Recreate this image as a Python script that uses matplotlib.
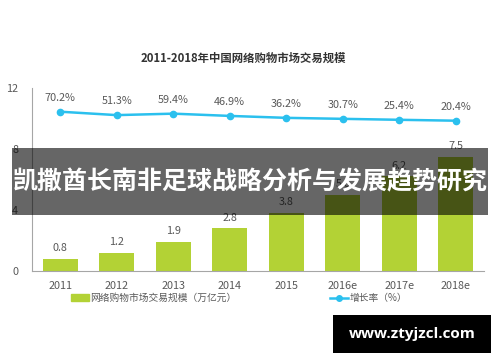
import matplotlib
matplotlib.use("Agg")
import matplotlib.pyplot as plt
from matplotlib.patches import Rectangle, Patch
from matplotlib.lines import Line2D

plt.rcParams['font.family'] = ['Noto Sans CJK SC', 'DejaVu Sans']

years = ['2011', '2012', '2013', '2014', '2015', '2016e', '2017e', '2018e']
scale = [0.8, 1.2, 1.9, 2.8, 3.8, 5.0, 6.2, 7.5]
growth = [70.2, 51.3, 59.4, 46.9, 36.2, 30.7, 25.4, 20.4]

bar_color = '#b3d235'
line_color = '#2bc0ee'
text_color = '#595959'

fig = plt.figure(figsize=(5, 3.62), dpi=100)
ax = fig.add_axes([0.064, 0.2514, 0.904, 0.5055])

x = range(len(years))
ax.bar(x, scale, width=0.62, color=bar_color, zorder=2)
for i, v in enumerate(scale):
    ax.annotate(f"{v:.1f}", (i, v), xytext=(0, 4), textcoords='offset points',
                ha='center', va='bottom', fontsize=7.8, color=text_color)

ax.set_xlim(-0.5, len(years) - 0.5)
ax.set_ylim(0, 12)
ax.set_yticks([0, 4, 8, 12])
ax.set_xticks(list(x))
ax.set_xticklabels(years)
ax.tick_params(axis='both', length=0, labelsize=7.8, labelcolor=text_color)
ax.tick_params(axis='y', pad=10)
ax.tick_params(axis='x', pad=7)
for s in ['top', 'right']:
    ax.spines[s].set_visible(False)
for s in ['left', 'bottom']:
    ax.spines[s].set_color('#a6a6a6')
    ax.spines[s].set_linewidth(0.8)

ax2 = ax.twinx()
ax2.plot(x, growth, color=line_color, lw=1.8, marker='o', ms=4.5, zorder=3)
ax2.set_ylim(-811.6, 201.4)
ax2.axis('off')
for i, v in enumerate(growth):
    ax2.annotate(f"{v}%", (i, v), xytext=(0, 6.5), textcoords='offset points',
                 ha='center', va='bottom', fontsize=7.8, color=text_color)

fig.text(0.486, 0.84, '2011-2018年中国网络购物市场交易规模', ha='center', va='center',
         fontsize=8.2, fontweight='bold', color='#333333')

handles = [Patch(color=bar_color),
           Line2D([0], [0], color=line_color, lw=1.8, marker='o', ms=4)]
labels = ['网络购物市场交易规模（万亿元）', '增长率（%）']
fig.legend(handles, labels, loc='center', bbox_to_anchor=(0.478, 0.177), ncol=2,
           frameon=False, fontsize=7, labelcolor=text_color, handlelength=1.9,
           handleheight=0.6, handletextpad=0.1, columnspacing=9.6)

# overlay banner
fig.add_artist(Rectangle((0.024, 0.406), 0.952, 0.185, transform=fig.transFigure,
                         facecolor='black', alpha=0.6, edgecolor='none', zorder=10))
fig.text(0.5, 0.497, '凯撒酋长南非足球战略分析与发展趋势研究', ha='center', va='center',
         fontsize=18, fontweight='bold', color='white', zorder=11)

# watermark
fig.add_artist(Rectangle((0.666, 0.025), 0.316, 0.105, transform=fig.transFigure,
                         facecolor='black', edgecolor='none', zorder=10))
fig.text(0.824, 0.078, 'www.ztyjzcl.com', ha='center', va='center',
         fontsize=11, fontweight='bold', color='white', zorder=11,
         family=['Open Sans', 'DejaVu Sans'])

fig.savefig('out.png', dpi=100)
